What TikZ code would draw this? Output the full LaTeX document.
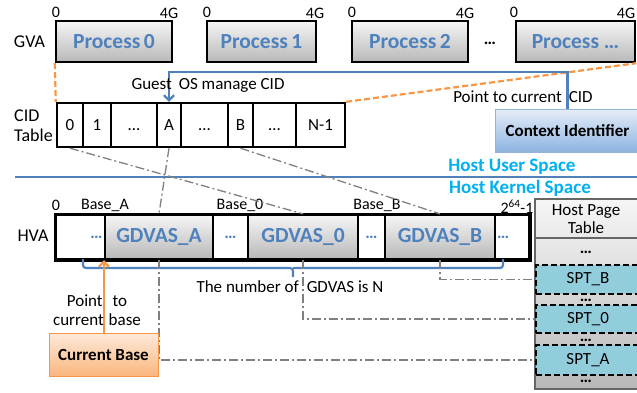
\documentclass[tikz,border=0pt]{standalone}
\usepackage{fontspec}
\setmainfont{Carlito}
\usetikzlibrary{arrows.meta}
\definecolor{procblue}{HTML}{4F81BD}
\definecolor{lineblue}{HTML}{4F81BD}
\definecolor{hostcyan}{HTML}{00B0F0}
\definecolor{dashorange}{HTML}{F79646}
\definecolor{conngray}{HTML}{808080}
\definecolor{sptblue}{HTML}{92CDDC}
\definecolor{gradtop}{HTML}{F6F6F6}
\definecolor{gradbot}{HTML}{B8B8B8}
\definecolor{ctxtop}{HTML}{E3ECF7}
\definecolor{ctxbot}{HTML}{8DB3E2}
\definecolor{ctxborder}{HTML}{95B3D7}
\definecolor{cbtop}{HTML}{FDEADA}
\definecolor{cbbot}{HTML}{FAB67E}
\begin{document}
\begin{tikzpicture}[x=1pt,y=-1pt,
  every node/.style={inner sep=0pt, font=\fontsize{17}{20}\selectfont},
  procbox/.style={draw=black, line width=2.4pt, top color=gradtop, bottom color=gradbot,
    text=procblue, font=\fontsize{21.5}{24}\selectfont\bfseries, minimum height=41pt},
  axislabel/.style={font=\fontsize{16}{18}\selectfont},
  rowlabel/.style={font=\fontsize{18}{21}\selectfont},
  cidcell/.style={draw=black, line width=2.4pt, fill=white, minimum height=44pt,
    text height=11pt, text depth=0pt},
  hvawhite/.style={draw=black, line width=2.2pt, fill=white, minimum height=44pt,
    text=procblue, font=\fontsize{17}{20}\selectfont\bfseries},
  gdvas/.style={draw=black, line width=2.2pt, top color=gradtop, bottom color=gradbot,
    minimum height=44pt, text=procblue, font=\fontsize{21.5}{24}\selectfont\bfseries},
  ctxbox/.style={draw=ctxborder, line width=1pt, top color=ctxtop, bottom color=ctxbot,
    font=\fontsize{17}{20}\selectfont\bfseries, minimum height=42pt},
  cbbox/.style={draw=dashorange, line width=1pt, top color=cbtop, bottom color=cbbot,
    font=\fontsize{17}{20}\selectfont\bfseries, minimum height=43pt},
  hptbox/.style={draw=gray!80!black, line width=1.2pt, top color=gradtop, bottom color=gradbot},
  sptcell/.style={draw=black, line width=1.8pt, dash pattern=on 6pt off 3pt, fill=sptblue},
  dotlabel/.style={font=\fontsize{17}{20}\selectfont\bfseries},
  bluearrow/.style={draw=lineblue, line width=2.2pt, -{Straight Barb[length=5pt,width=10pt]}},
  blueline/.style={draw=lineblue, line width=2.2pt, rounded corners=3pt},
  orangearrow/.style={draw=dashorange, line width=2.2pt, -{Straight Barb[length=5pt,width=10pt]}},
  orangedash/.style={draw=dashorange, line width=2.2pt, dash pattern=on 6pt off 3pt},
  grayconn/.style={draw=conngray, line width=1.3pt, dash pattern=on 9pt off 3pt on 2pt off 3pt},
  hosttext/.style={text=hostcyan, font=\fontsize{19}{22}\selectfont\bfseries}
]
\useasboundingbox (0,0) rectangle (637,393);

% ---------- guest virtual address spaces ----------
\node[rowlabel] (gva) at (29.5,42) {GVA};
\node[procbox, minimum width=116pt] (p0) at (114,41.5) {Process\,0};
\node[procbox, minimum width=109pt] (p1) at (261.5,41.5) {Process\,1};
\node[procbox, minimum width=116pt] (p2) at (410,41.5) {Process\,2};
\node[dotlabel] (pdots) at (490,43) {…};
\node[procbox, minimum width=119pt] (pn) at (575.5,41.5) {Process …};

\node[axislabel] (p0lo) at (56,12) {0};
\node[axislabel] (p0hi) at (169,13) {4G};
\node[axislabel] (p1lo) at (207,12) {0};
\node[axislabel] (p1hi) at (315,13) {4G};
\node[axislabel] (p2lo) at (352,12) {0};
\node[axislabel] (p2hi) at (465,13) {4G};
\node[axislabel] (pnlo) at (514,12) {0};
\node[axislabel] (pnhi) at (626,13) {4G};

% ---------- CID table ----------
\node[rowlabel, align=left, anchor=west] (cidlabel) at (14,126) {CID\\[-1pt]Table};
\node[cidcell, minimum width=26pt] (c0) at (70,125) {0};
\node[cidcell, minimum width=28pt] (c1) at (97,125) {1};
\node[cidcell, minimum width=46pt] (cd1) at (134,125) {…};
\node[cidcell, minimum width=24pt] (cA) at (169,125) {A};
\node[cidcell, minimum width=47pt] (cd2) at (204.5,125) {…};
\node[cidcell, minimum width=25pt] (cB) at (240.5,125) {B};
\node[cidcell, minimum width=43pt] (cd3) at (274.5,125) {…};
\node[cidcell, minimum width=49pt] (cN) at (320.5,125) {N-1};

\draw[orangedash] (p0.south west) -- (c0.north west);
\draw[orangedash] (cN.north east) -- (pn.south east);

% ---------- context identifier register ----------
\node[ctxbox, minimum width=145pt] (ctx) at (567.5,131) {Context Identifier};
\coordinate (topline) at (0,72);
\draw[bluearrow] (ctx.north) |- (cA.north |- topline) -- (cA.north);
\node (guestcid) at (208,85) {Guest\hspace{7pt}OS manage CID};
\node (ptcid) at (523,97) {Point to current\hspace{7pt}CID};

% ---------- user / kernel boundary ----------
\coordinate (sepL) at (15,177);
\coordinate (sepR) at (637,177);
\draw[draw=lineblue, line width=2pt] (sepL) -- (sepR);
\node[hosttext] (userspace) at (512,167) {Host User Space};
\node[hosttext] (kernelspace) at (520,188) {Host Kernel Space};

% ---------- host virtual address space ----------
\node[rowlabel] (hva) at (33,236) {HVA};
\node[hvawhite, minimum width=49pt, text width=44pt, align=right] (h1) at (80.5,237) {…};
\node[gdvas, minimum width=108pt] (gA) at (159,237) {GDVAS\_A};
\node[hvawhite, minimum width=35pt] (h2) at (230.5,237) {…};
\node[gdvas, minimum width=110pt] (g0) at (303,237) {GDVAS\_0};
\node[hvawhite, minimum width=27pt] (h3) at (371.5,237) {…};
\node[gdvas, minimum width=110pt] (gB) at (440,237) {GDVAS\_B};
\node[hvawhite, minimum width=34pt, text width=30pt, align=left] (h4) at (512,237) {…};
\draw[line width=2.8pt] (h1.north west) rectangle (h4.south east);

\node[axislabel] (hvalo) at (56,205) {0};
\node[axislabel] (baseA) at (105,205) {Base\_A};
\node[axislabel] (base0) at (240,205) {Base\_0};
\node[axislabel] (baseB) at (377,205) {Base\_B};
\node[axislabel] (hvahi) at (517,207) {2\textsuperscript{64}-1};

% CID entries select their GDVAS
\draw[grayconn] (c0.south) -- (g0.north);
\draw[grayconn] (cA.south) -- (gA.north);
\draw[grayconn] (cB.south) -- (gB.north);

% bracket spanning all GDVAS
\coordinate (brL) at (83,259);
\coordinate (brM) at (293,277);
\coordinate (brR) at (503,259);
\coordinate (brY) at (0,268);
\draw[blueline] (brL) -- (brL |- brY) -- (brM |- brY) -- (brM);
\draw[blueline] (brM |- brY) -- (brR |- brY) -- (brR);
\node (ngdvas) at (290,287) {The number of\hspace{8pt}GDVAS is N};

% ---------- host page table ----------
\node[hptbox, minimum width=105pt, minimum height=190pt] (hpt) at (587.5,294) {};
\coordinate (hdrline) at (535,238);
\draw[draw=gray!80!black, line width=1.2pt] (hdrline) -- (hdrline -| hpt.east);
\node[align=center] (hpttitle) at (586,219) {Host Page\\[-2pt]Table};
\node[dotlabel] (hd1) at (586,252) {…};
\node[sptcell, minimum width=104pt, minimum height=29pt] (sptB) at (588,279.5) {SPT\_B};
\node[dotlabel] (hd2) at (586,300) {…};
\node[sptcell, minimum width=104pt, minimum height=28pt] (spt0) at (588,319) {SPT\_0};
\node[dotlabel] (hd3) at (586,340) {…};
\node[sptcell, minimum width=104pt, minimum height=30pt] (sptA) at (588,360) {SPT\_A};
\node[dotlabel] (hd4) at (586,381) {…};

% each GDVAS points at its shadow page table
\draw[grayconn] (gA.south) |- (sptA.west);
\draw[grayconn] (g0.south) |- (spt0.west);
\draw[grayconn] (gB.south) |- (sptB.west);

% ---------- current base register ----------
\node[cbbox, minimum width=109pt] (cb) at (103.5,354.5) {Current Base};
\draw[orangearrow] (cb.north -| gA.south west) -- (gA.south west);
\node[align=center] (ptbase) at (97,310) {Point\hspace{10pt}to\\[-1pt]current\hspace{5pt}base};
\end{tikzpicture}
\end{document}
